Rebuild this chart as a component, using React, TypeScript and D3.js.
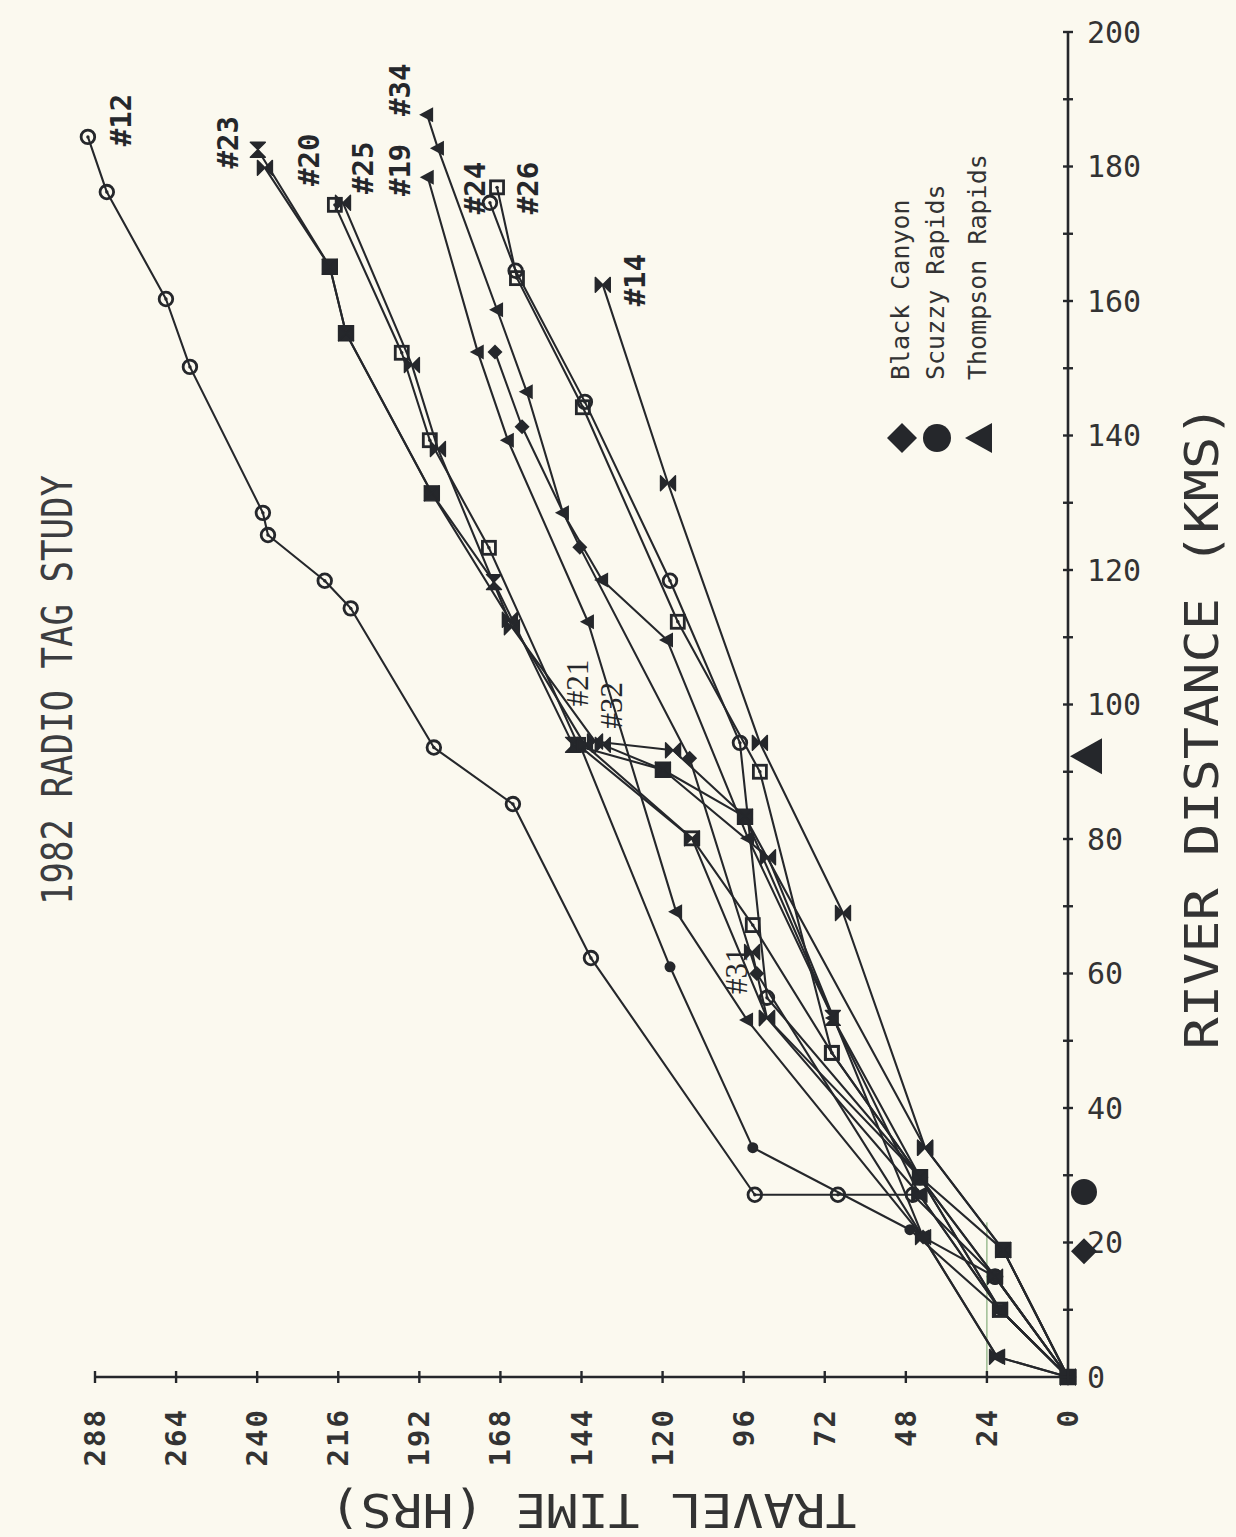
import React from 'react';
import * as d3 from 'd3';

type Pt = [number, number]; // [travel time hrs, river distance km]

// ---- data (hours, km) ----
const s12: Pt[] = [[0,0],[21.6,14.9],[45.9,27.1],[68.1,27.1],[92.7,27.1],[141.2,62.3],[164.3,85.2],[187.7,93.6],[212.3,114.3],[220.0,118.4],[236.8,125.2],[238.3,128.5],[259.9,150.2],[267.0,160.3],[284.5,176.2],[290.1,184.4]];
const s21: Pt[] = [[0,0],[20.1,10.0],[46.8,21.9],[93.3,34.1],[117.8,61.0],[144.5,94.0]];
const s32: Pt[] = [[0,0],[21.0,3.0],[42.9,20.8],[88.8,77.3],[119.9,90.3],[137.7,94.0]];
const s31: Pt[] = [[0,0],[20.1,10.0],[44.0,27.1],[89.1,53.4],[93.5,63.2]];
const s14: Pt[] = [[0,0],[19.2,18.9],[42.3,34.1],[66.6,69.0],[91.2,94.3],[118.4,132.9],[137.7,162.4]];
const s26: Pt[] = [[0,0],[20.1,10.0],[43.8,29.7],[69.9,48.2],[91.2,90.0],[115.5,112.3],[143.6,144.2],[163.1,163.4],[169.0,176.9]];
const s24: Pt[] = [[0,0],[21.6,14.9],[43.8,29.7],[89.1,56.4],[97.1,94.3],[117.8,118.4],[143.0,145.0],[163.5,164.5],[171.1,174.6]];
const s34: Pt[] = [[0,0],[20.1,10.0],[44.0,27.1],[69.6,53.4],[94.7,80.1],[118.7,109.6],[137.9,118.5],[149.5,128.5],[160.2,146.5],[169.0,158.7],[186.5,182.7],[189.7,187.7]];
const s19: Pt[] = [[0,0],[21.0,3.0],[42.9,20.8],[95.0,53.1],[116.0,69.2],[142.1,112.3],[165.8,139.3],[174.7,152.4],[189.5,178.4]];
const sDia: Pt[] = [[0,0],[21.6,14.9],[42.9,20.8],[92.1,60.0],[112.0,92.0],[144.5,123.4],[161.6,141.3],[169.6,152.4]];
const s25: Pt[] = [[0,0],[20.1,10.0],[43.8,29.7],[69.9,48.2],[93.3,67.2],[111.3,80.1],[145.0,94.0],[171.4,123.3],[188.9,139.3],[197.2,152.3],[217.0,174.3]];
const s25b: Pt[] = [[0,0],[19.2,18.9],[42.3,34.1],[95.6,83.3],[116.9,93.2],[140.0,94.5],[164.6,111.5],[186.5,138.0],[194.2,150.5],[214.6,174.6]];
const s23: Pt[] = [[0,0],[19.2,18.9],[43.8,29.7],[69.6,53.4],[95.6,83.3],[119.9,90.3],[146.5,94.0],[169.9,118.2],[188.3,131.4],[213.7,155.2],[218.5,165.1],[239.8,182.5]];
const s20: Pt[] = [[0,0],[21.6,14.9],[43.8,29.7],[89.1,53.4],[111.3,80.1],[143.0,94.0],[165.2,112.6],[188.3,131.4],[213.7,155.2],[218.5,165.1],[237.7,179.8]];

const series = [
  { pts: s12, marker: 'circle' },
  { pts: s21, marker: 'dot' },
  { pts: s32, marker: 'bowtie' },
  { pts: s31, marker: 'bowtie' },
  { pts: s14, marker: 'bowtie' },
  { pts: s26, marker: 'square' },
  { pts: s24, marker: 'circle' },
  { pts: s34, marker: 'triangle' },
  { pts: s19, marker: 'triangle' },
  { pts: sDia, marker: 'diamond' },
  { pts: s25, marker: 'square' },
  { pts: s25b, marker: 'bowtie' },
  { pts: s23, marker: 'hourglass' },
  { pts: s20, marker: 'bowtie' },
];

// series tag labels, anchored in data units (hrs, km)
const tagLabels = [
  { text: '#12', t: 280.3, d: 186.9, serif: false },
  { text: '#23', t: 248.7, d: 183.6, serif: false },
  { text: '#20', t: 224.7, d: 181.0, serif: false },
  { text: '#25', t: 208.7, d: 179.8, serif: false },
  { text: '#19', t: 197.8, d: 179.5, serif: false },
  { text: '#34', t: 197.8, d: 191.4, serif: false },
  { text: '#24', t: 175.5, d: 176.8, serif: false },
  { text: '#26', t: 159.9, d: 176.8, serif: false },
  { text: '#14', t: 128.2, d: 163.1, serif: false },
  { text: '#21', t: 145.1, d: 103.2, serif: true },
  { text: '#32', t: 135.0, d: 99.9, serif: true },
  { text: '#31', t: 98.0, d: 60.4, serif: true },
];

const stations = [
  { name: 'Black Canyon', km: 18.7, shape: 'diamond' },
  { name: 'Scuzzy Rapids', km: 27.5, shape: 'circle' },
  { name: 'Thompson Rapids', km: 92.3, shape: 'triangle' },
];

const timeTicks = [0, 24, 48, 72, 96, 120, 144, 168, 192, 216, 240, 264, 288];
const distMajor = [0, 20, 40, 60, 80, 100, 120, 140, 160, 180, 200];
const distMinor = [10, 30, 50, 70, 90, 110, 130, 150, 170, 190];

const W = 1236, H = 1537;
const INK = '#25272b';
const MONO = '"DejaVu Sans Mono", "Liberation Mono", monospace';

function Marker({ type, cx, cy }: { type: string; cx: number; cy: number }) {
  const s = 7.5;
  switch (type) {
    case 'circle':
      return (
        <g>
          <circle cx={cx} cy={cy} r={6.8} fill="none" stroke={INK} strokeWidth={2.8} />
          <circle cx={cx} cy={cy} r={1.7} fill={INK} />
        </g>
      );
    case 'dot':
      return <circle cx={cx} cy={cy} r={5.5} fill={INK} />;
    case 'square':
      return (
        <g>
          <rect x={cx - 6.5} y={cy - 6.5} width={13} height={13} fill="none" stroke={INK} strokeWidth={2.8} />
          <circle cx={cx} cy={cy} r={1.7} fill={INK} />
        </g>
      );
    case 'bowtie':
      return <path d={`M${cx - s},${cy - s}L${cx + s},${cy + s}L${cx + s},${cy - s}L${cx - s},${cy + s}Z`} fill={INK} stroke={INK} strokeWidth={1.4} strokeLinejoin="round" />;
    case 'hourglass':
      return <path d={`M${cx - s},${cy - s}L${cx + s},${cy - s}L${cx - s},${cy + s}L${cx + s},${cy + s}Z`} fill={INK} stroke={INK} strokeWidth={1.4} strokeLinejoin="round" />;
    case 'triangle':
      return <path d={`M${cx - 8},${cy}L${cx + 6},${cy - 7.5}L${cx + 6},${cy + 7.5}Z`} fill={INK} />;
    case 'diamond':
      return <path d={`M${cx},${cy - 7.5}L${cx + 7.5},${cy}L${cx},${cy + 7.5}L${cx - 7.5},${cy}Z`} fill={INK} />;
    default:
      return null;
  }
}

export default function App() {
  const x = d3.scaleLinear().domain([0, 288]).range([1068, 95]);
  const y = d3.scaleLinear().domain([0, 200]).range([1377, 32]);
  const line = d3.line<Pt>().x((p) => x(p[0])).y((p) => y(p[1]));
  const axisX = x(0);
  const axisY = y(0);

  return (
    <svg width={W} height={H} style={{ position: 'absolute', left: 0, top: 0 }} xmlns="http://www.w3.org/2000/svg">
      <rect x={0} y={0} width={W} height={H} fill="#fbf9ef" />

      {/* title */}
      <text transform="translate(57,690) rotate(-90) scale(1,1.2)" textAnchor="middle" dominantBaseline="central"
        fontFamily={MONO} fontSize={36} fill="#3c3d40" textLength={430} lengthAdjust="spacingAndGlyphs">1982 RADIO TAG STUDY</text>

      {/* faint green reference at 24 hrs */}
      <line x1={x(24)} x2={x(24)} y1={axisY} y2={y(23)} stroke="#4f8a45" strokeWidth={1} opacity={0.8} />

      {/* series lines */}
      {series.map((s, i) => (
        <path key={'l' + i} d={line(s.pts) || ''} fill="none" stroke={INK} strokeWidth={2.1} strokeLinejoin="round" />
      ))}
      {/* markers */}
      {series.map((s, i) => (
        <g key={'m' + i}>
          {s.pts.map((p, j) => (
            <Marker key={j} type={s.marker} cx={x(p[0])} cy={y(p[1])} />
          ))}
        </g>
      ))}
      <rect x={axisX - 8} y={axisY - 8} width={16} height={16} fill={INK} />

      {/* tag labels */}
      {tagLabels.map((l) => (
        <text key={l.text} transform={`translate(${x(l.t)},${y(l.d)}) rotate(-90)`} textAnchor="middle" dominantBaseline="central"
          fontFamily={l.serif ? '"Liberation Serif", serif' : MONO} fontWeight={l.serif ? 400 : 700}
          fontSize={l.serif ? 31 : 29} fill={INK}>{l.text}</text>
      ))}

      {/* distance axis (right, vertical) */}
      <line x1={axisX} x2={axisX} y1={y(0)} y2={y(200)} stroke={INK} strokeWidth={2.6} />
      {distMajor.concat(distMinor).map((d) => (
        <line key={'dt' + d} x1={axisX - 5} x2={axisX + 5} y1={y(d)} y2={y(d)} stroke={INK} strokeWidth={2.4} />
      ))}
      {distMajor.map((d) => (
        <text key={'dl' + d} x={axisX + 19} y={y(d)} dominantBaseline="central" fontFamily={MONO} fontSize={30} fill="#333">{d}</text>
      ))}
      <text transform="translate(1202,727) rotate(-90)" textAnchor="middle" dominantBaseline="central" fontFamily={MONO}
        fontSize={46} fill="#333" textLength={645} lengthAdjust="spacingAndGlyphs">RIVER DISTANCE (KMS)</text>

      {/* station markers on distance axis */}
      {stations.map((s) => {
        const cy = y(s.km);
        const cx = axisX + 16;
        if (s.shape === 'diamond') return <path key={s.name} d={`M${cx},${cy - 13}L${cx + 13},${cy}L${cx},${cy + 13}L${cx - 13},${cy}Z`} fill={INK} />;
        if (s.shape === 'circle') return <circle key={s.name} cx={cx} cy={cy} r={13} fill={INK} />;
        return <path key={s.name} d={`M${axisX + 2},${cy}L${axisX + 34},${cy - 18}L${axisX + 34},${cy + 18}Z`} fill={INK} />;
      })}

      {/* legend */}
      {stations.map((s, i) => {
        const lx = [902, 937, 979][i];
        const ly = 438;
        let sym;
        if (s.shape === 'diamond') sym = <path d={`M${lx},${ly - 15}L${lx + 15},${ly}L${lx},${ly + 15}L${lx - 15},${ly}Z`} fill={INK} />;
        else if (s.shape === 'circle') sym = <circle cx={lx} cy={ly} r={14} fill={INK} />;
        else sym = <path d={`M${lx - 14},${ly}L${lx + 13},${ly - 15}L${lx + 13},${ly + 15}Z`} fill={INK} />;
        return (
          <g key={'lg' + s.name}>
            {sym}
            <text transform={`translate(${lx - 2},380) rotate(-90)`} textAnchor="start" dominantBaseline="central"
              fontFamily={MONO} fontSize={25} fill="#333">{s.name}</text>
          </g>
        );
      })}

      {/* time axis (bottom, horizontal) */}
      <line x1={x(0)} x2={x(288)} y1={axisY} y2={axisY} stroke={INK} strokeWidth={2.6} />
      {timeTicks.map((t) => (
        <line key={'tt' + t} x1={x(t)} x2={x(t)} y1={axisY - 6} y2={axisY + 6} stroke={INK} strokeWidth={2.4} />
      ))}
      {timeTicks.map((t) => (
        <text key={'tl' + t} transform={`translate(${x(t)},1408) rotate(-90)`} textAnchor="end" dominantBaseline="central"
          fontFamily={MONO} fontWeight={700} fontSize={29} letterSpacing={2} fill="#333">{t}</text>
      ))}
      <text transform="translate(593,1510) rotate(180)" textAnchor="middle" dominantBaseline="central" fontFamily={MONO}
        fontSize={46} fill="#333" textLength={527} lengthAdjust="spacingAndGlyphs">TRAVEL TIME (HRS)</text>
    </svg>
  );
}
